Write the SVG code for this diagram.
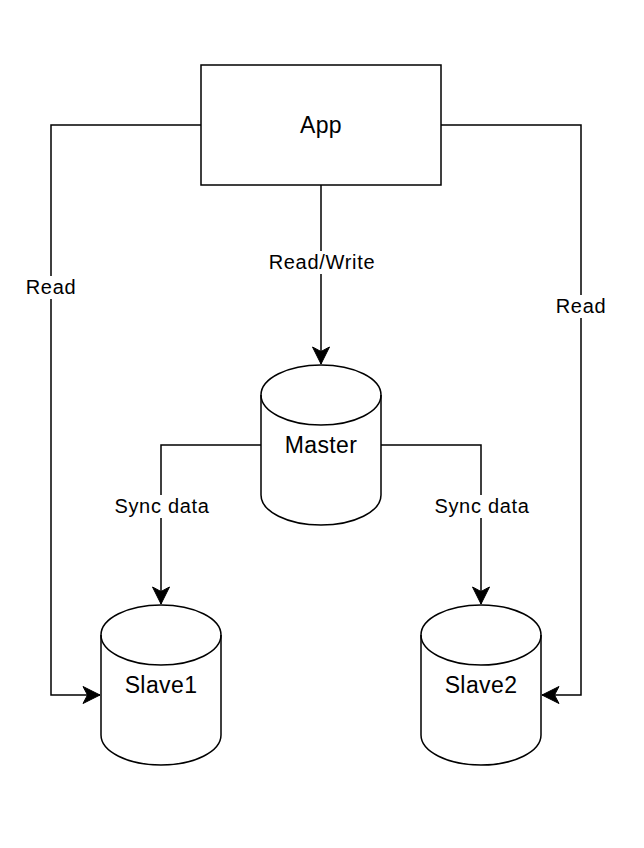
<svg xmlns="http://www.w3.org/2000/svg" width="644" height="848" viewBox="0 0 644 848">
<defs>
<style>
.shape{fill:#fff;stroke:#000;stroke-width:1.5}
.edge{fill:none;stroke:#000;stroke-width:1.5}
.node{font-family:"Liberation Sans",Arial,sans-serif;font-size:23px;fill:#000;text-anchor:middle;letter-spacing:0.4px}
.lbl{font-family:"Liberation Sans",Arial,sans-serif;font-size:20px;fill:#000;text-anchor:middle;letter-spacing:0.7px}
.bg{fill:#fff}
</style>
<marker id="arr" markerUnits="userSpaceOnUse" markerWidth="20" markerHeight="20" viewBox="-18 -10 20 20" refX="0" refY="0" orient="auto">
<path d="M0,0 L-17,-8.5 L-12.5,0 L-17,8.5 Z" fill="#000" stroke="#000" stroke-width="1"/>
</marker>
</defs>
<rect width="644" height="848" fill="#fff"/>
<g id="connectors">
<path class="edge" d="M321,185 L321,364" marker-end="url(#arr)"/>
<path class="edge" d="M201,125 L51,125 L51,695 L100,695" marker-end="url(#arr)"/>
<path class="edge" d="M441,125 L581,125 L581,695 L542,695" marker-end="url(#arr)"/>
<path class="edge" d="M261,445 L161,445 L161,604" marker-end="url(#arr)"/>
<path class="edge" d="M381,445 L481,445 L481,604" marker-end="url(#arr)"/>
<rect class="bg" x="268" y="251" width="118" height="23"/>
<text class="lbl" x="322" y="269">Read/Write</text>
<rect class="bg" x="22" y="276" width="58" height="23"/>
<text class="lbl" x="51" y="294">Read</text>
<rect class="bg" x="552" y="295" width="58" height="23"/>
<text class="lbl" x="581" y="313">Read</text>
<rect class="bg" x="108" y="495" width="108" height="23"/>
<text class="lbl" x="162" y="513">Sync data</text>
<rect class="bg" x="428" y="495" width="108" height="23"/>
<text class="lbl" x="482" y="513">Sync data</text>
</g>
<g id="app">
<rect class="shape" x="201" y="65" width="240" height="120"/>
<text class="node" x="321" y="133">App</text>
</g>
<g id="master">
<path class="shape" d="M261,395 A60,30 0 0 1 381,395 L381,495 A60,30 0 0 1 261,495 Z"/>
<path class="edge" d="M261,395 A60,30 0 0 0 381,395"/>
<text class="node" x="321" y="453">Master</text>
</g>
<g id="slave1">
<path class="shape" d="M101,635 A60,30 0 0 1 221,635 L221,735 A60,30 0 0 1 101,735 Z"/>
<path class="edge" d="M101,635 A60,30 0 0 0 221,635"/>
<text class="node" x="161" y="693">Slave1</text>
</g>
<g id="slave2">
<path class="shape" d="M421,635 A60,30 0 0 1 541,635 L541,735 A60,30 0 0 1 421,735 Z"/>
<path class="edge" d="M421,635 A60,30 0 0 0 541,635"/>
<text class="node" x="481" y="693">Slave2</text>
</g>
</svg>
